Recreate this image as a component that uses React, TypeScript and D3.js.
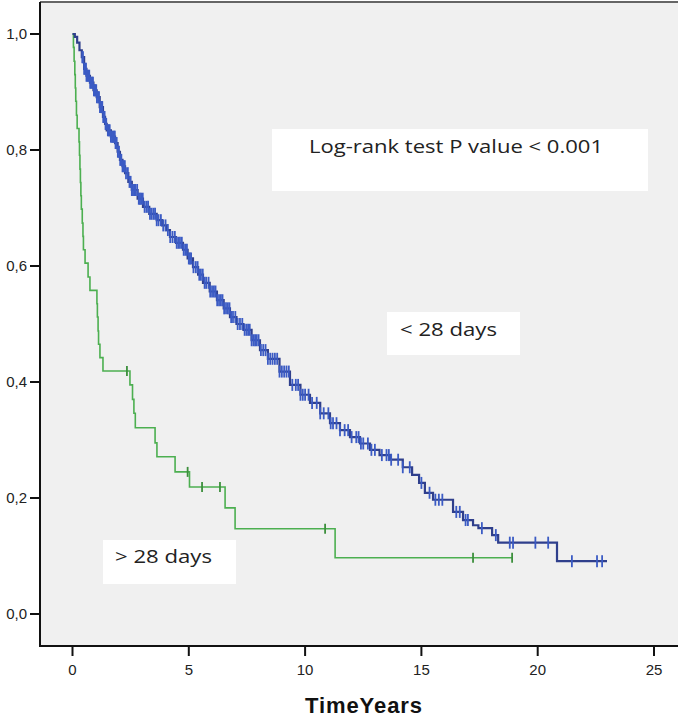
import * as d3 from "d3";
import { useEffect, useRef } from "react";

// Kaplan-Meier estimates: step times (years) and survival
const earlyTimes = [
  0, 0.1, 0.2, 0.3, 0.4, 0.5, 0.6, 0.75, 0.9, 1.04, 1.17, 1.31, 1.4, 1.47, 1.65,
  1.83, 1.94, 2.04, 2.15, 2.26, 2.4, 2.55, 2.8, 3.03, 3.3, 3.62, 3.85, 4.05, 4.19,
  4.45, 4.75, 4.95, 5.18, 5.4, 5.61, 5.9, 6.21, 6.5, 6.77, 7.05, 7.35, 7.7, 8.06,
  8.4, 8.9, 9.35, 9.8, 10.21, 10.65, 11.07, 11.5, 11.93, 12.36, 12.79, 13.2,
  13.65, 14.2, 14.6, 14.9, 15.15, 15.5, 16.36, 16.79, 17.22, 17.45, 18.04, 18.3,
  20.83, 22.98,
];
const earlySurv = [
  1.0, 0.995, 0.985, 0.972, 0.96, 0.94, 0.928, 0.916, 0.903, 0.891, 0.874, 0.857,
  0.845, 0.834, 0.823, 0.812, 0.797, 0.783, 0.772, 0.76, 0.745, 0.731, 0.716,
  0.702, 0.69, 0.679, 0.67, 0.662, 0.65, 0.64, 0.628, 0.613, 0.598, 0.585, 0.571,
  0.556, 0.541, 0.527, 0.512, 0.5, 0.49, 0.472, 0.455, 0.44, 0.418, 0.395, 0.378,
  0.364, 0.346, 0.329, 0.317, 0.305, 0.294, 0.283, 0.274, 0.266, 0.253, 0.24,
  0.226, 0.209, 0.197, 0.176, 0.162, 0.153, 0.148, 0.136, 0.123, 0.091, 0.091,
];
const earlyCensored = [
  0.42, 0.45, 0.5, 0.55, 0.58, 0.6, 0.64, 0.68, 0.72, 0.76, 0.8, 0.85, 0.88, 0.92,
  0.95, 0.98, 1.02, 1.05, 1.1, 1.14, 1.18, 1.22, 1.25, 1.28, 1.32, 1.35, 1.38,
  1.42, 1.45, 1.52, 1.56, 1.6, 1.65, 1.7, 1.74, 1.78, 1.82, 1.85, 1.9, 1.95, 2.0,
  2.05, 2.1, 2.15, 2.2, 2.25, 2.3, 2.38, 2.45, 2.5, 2.55, 2.6, 2.65, 2.7, 2.78,
  2.85, 2.9, 2.95, 3.02, 3.1, 3.18, 3.25, 3.33, 3.4, 3.48, 3.55, 3.62, 3.7, 3.8,
  3.9, 4.0, 4.1, 4.2, 4.3, 4.4, 4.48, 4.55, 4.62, 4.7, 4.78, 4.85, 4.92, 5.0, 5.05,
  5.1, 5.2, 5.3, 5.38, 5.45, 5.52, 5.6, 5.68, 5.75, 5.85, 5.92, 6.0, 6.08, 6.15,
  6.22, 6.3, 6.38, 6.45, 6.52, 6.6, 6.68, 6.75, 6.82, 6.9, 7.0, 7.1, 7.2, 7.3, 7.4,
  7.48, 7.55, 7.62, 7.7, 7.78, 7.85, 7.92, 8.0, 8.1, 8.2, 8.3, 8.4, 8.5, 8.6, 8.7,
  8.8, 8.9, 9.0, 9.1, 9.2, 9.3, 9.45, 9.6, 9.7, 9.8, 9.9, 10.0, 10.15, 10.3, 10.5,
  10.65, 10.8, 11.0, 11.1, 11.2, 11.35, 11.5, 11.7, 11.85, 12.0, 12.2, 12.3, 12.4,
  12.5, 12.7, 12.85, 13.0, 13.3, 13.5, 13.6, 13.7, 14.0, 14.2, 14.5, 15.0, 15.35,
  15.6, 15.75, 15.9, 16.5, 16.65, 16.9, 17.0, 17.6, 18.2, 18.8, 18.94, 19.9, 20.45,
  21.47, 22.55, 22.77,
];

const lateTimes = [
  0, 0.04, 0.07, 0.1, 0.12, 0.14, 0.17, 0.2, 0.28, 0.3, 0.32, 0.34, 0.36, 0.38,
  0.42, 0.45, 0.47, 0.54, 0.67, 0.75, 1.05, 1.07, 1.1, 1.12, 1.18, 1.31, 2.47,
  2.58, 2.64, 2.7, 3.55, 3.63, 4.41, 5.03, 6.56, 6.99, 11.29, 18.9,
];
const lateSurv = [
  1.0, 0.977, 0.953, 0.93, 0.907, 0.884, 0.86, 0.837, 0.814, 0.791, 0.767, 0.744,
  0.721, 0.698, 0.674, 0.651, 0.628, 0.605, 0.581, 0.558, 0.535, 0.512, 0.488,
  0.465, 0.442, 0.419, 0.395, 0.37, 0.346, 0.321, 0.295, 0.271, 0.245, 0.219,
  0.183, 0.147, 0.097, 0.097,
];
const lateCensored = [2.34, 4.95, 5.57, 6.34, 10.86, 17.22, 18.9];

const xTicks = [0, 5, 10, 15, 20, 25];
const yTicks = [0, 0.2, 0.4, 0.6, 0.8, 1.0];

const W = 685;
const H = 718;

const App = () => {
  const svgRef = useRef<SVGSVGElement>(null);

  useEffect(() => {
    const svg = d3.select(svgRef.current);
    svg.selectAll("*").remove();

    const frame = { left: 40, right: 678, top: 2, bottom: 646 };
    const x = d3.scaleLinear().domain([0, 25]).range([72.5, 654]);
    const y = d3.scaleLinear().domain([0, 1]).range([614, 34]);

    svg
      .append("rect")
      .attr("x", frame.left)
      .attr("y", frame.top)
      .attr("width", frame.right - frame.left)
      .attr("height", frame.bottom - frame.top)
      .attr("fill", "#f0f0f0");

    // frame lines
    svg
      .append("line")
      .attr("x1", frame.left)
      .attr("x2", frame.right)
      .attr("y1", frame.top)
      .attr("y2", frame.top)
      .attr("stroke", "#666")
      .attr("stroke-width", 2);
    svg
      .append("line")
      .attr("x1", frame.left)
      .attr("x2", frame.left)
      .attr("y1", frame.top)
      .attr("y2", frame.bottom)
      .attr("stroke", "#111")
      .attr("stroke-width", 2);
    svg
      .append("line")
      .attr("x1", frame.left - 1)
      .attr("x2", frame.right)
      .attr("y1", frame.bottom)
      .attr("y2", frame.bottom)
      .attr("stroke", "#111")
      .attr("stroke-width", 2);

    // y ticks
    const yg = svg.append("g");
    yTicks.forEach((v) => {
      yg.append("line")
        .attr("x1", frame.left - 10)
        .attr("x2", frame.left)
        .attr("y1", y(v))
        .attr("y2", y(v))
        .attr("stroke", "#111")
        .attr("stroke-width", 2);
      yg.append("text")
        .attr("x", 27)
        .attr("y", y(v))
        .attr("dy", "0.36em")
        .attr("text-anchor", "end")
        .attr("font-family", "Liberation Sans, Arial, sans-serif")
        .attr("font-size", 15)
        .attr("fill", "#222")
        .text(d3.format(".1f")(v).replace(".", ","));
    });

    // x ticks
    const xg = svg.append("g");
    xTicks.forEach((v) => {
      xg.append("line")
        .attr("x1", x(v))
        .attr("x2", x(v))
        .attr("y1", frame.bottom)
        .attr("y2", frame.bottom + 10)
        .attr("stroke", "#111")
        .attr("stroke-width", 2);
      xg.append("text")
        .attr("x", x(v))
        .attr("y", 675)
        .attr("text-anchor", "middle")
        .attr("font-family", "Liberation Sans, Arial, sans-serif")
        .attr("font-size", 15)
        .attr("fill", "#222")
        .text(v);
    });

    svg
      .append("text")
      .attr("x", 305)
      .attr("y", 713)
      .attr("font-family", "Liberation Sans, Arial, sans-serif")
      .attr("font-weight", "bold")
      .attr("font-size", 22)
      .attr("textLength", 117)
      .attr("lengthAdjust", "spacing")
      .attr("fill", "#111")
      .text("TimeYears");

    // annotation boxes
    const boxes = [
      { x0: 272, x1: 648, y0: 129, y1: 191, tx: 309, ty: 153, w: 294, label: "Log-rank test P value < 0.001" },
      { x0: 387, x1: 520, y0: 312, y1: 355, tx: 400, ty: 336, w: 97, label: "< 28 days" },
      { x0: 103, x1: 236, y0: 540, y1: 584, tx: 115, ty: 563, w: 97, label: "> 28 days" },
    ];
    boxes.forEach((b) => {
      svg
        .append("rect")
        .attr("x", b.x0)
        .attr("y", b.y0)
        .attr("width", b.x1 - b.x0)
        .attr("height", b.y1 - b.y0)
        .attr("fill", "#fff");
      svg
        .append("text")
        .attr("x", b.tx)
        .attr("y", b.ty)
        .attr("font-family", "Open Sans, sans-serif")
        .attr("font-size", 19)
        .attr("textLength", b.w)
        .attr("lengthAdjust", "spacingAndGlyphs")
        .attr("fill", "#222")
        .text(b.label);
    });

    const line = d3
      .line<[number, number]>()
      .x((d) => x(d[0]))
      .y((d) => y(d[1]))
      .curve(d3.curveStepAfter);

    const drawCurve = (
      times: number[],
      surv: number[],
      censored: number[],
      lineColor: string,
      markColor: string,
      width: number,
      markHalf: number
    ) => {
      const pts = times.map((t, i) => [t, surv[i]] as [number, number]);
      svg
        .append("path")
        .attr("d", line(pts))
        .attr("fill", "none")
        .attr("stroke", lineColor)
        .attr("stroke-width", width);
      const bis = d3.bisector((d: [number, number]) => d[0]).right;
      const sy = (t: number) => y(pts[Math.max(0, bis(pts, t) - 1)][1]);
      svg
        .append("g")
        .selectAll("line")
        .data(censored)
        .join("line")
        .attr("x1", (t) => x(t))
        .attr("x2", (t) => x(t))
        .attr("y1", (t) => sy(t) - markHalf)
        .attr("y2", (t) => sy(t) + markHalf)
        .attr("stroke", markColor)
        .attr("stroke-width", 1.8);
    };

    drawCurve(lateTimes, lateSurv, lateCensored, "#4caf50", "#3c8f3c", 1.6, 5);
    drawCurve(earlyTimes, earlySurv, earlyCensored, "#2f3f8c", "#3b5bc4", 2.2, 6);
  }, []);

  return (
    <svg
      ref={svgRef}
      width={W}
      height={H}
      style={{ position: "absolute", left: 0, top: 0, background: "#fff" }}
    />
  );
};

export default App;
